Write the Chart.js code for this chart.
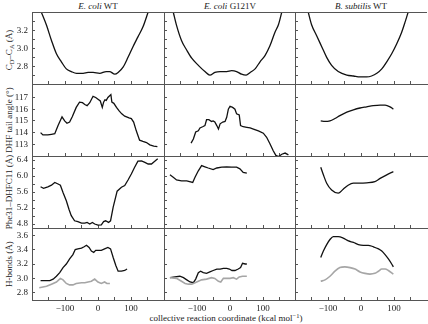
<!DOCTYPE html>
<html>
<head>
<meta charset="utf-8">
<script src="https://cdn.jsdelivr.net/npm/chart.js@4.4.1/dist/chart.umd.min.js"></script>
<style>
  body { margin: 0; background: #fff; }
  #wrap { position: relative; width: 428px; height: 324px; font-family: 'Liberation Serif', 'Times New Roman', serif; color: #222; }
  #wrap canvas { position: absolute; left: 0; top: 0; }
  .t { position: absolute; font-size: 9px; white-space: nowrap; transform: translate(-50%, -50%); line-height: 1; }
  .yl { transform: translate(-50%, -50%) rotate(-90deg); }
  sub { font-size: 6.5px; vertical-align: -2px; line-height: 0; }
  sup { font-size: 6.5px; vertical-align: 3px; line-height: 0; }
</style>
</head>
<body>
<div id="wrap">
  <div class="t" style="left:98px;top:6px"><i>E. coli</i> WT</div>
  <div class="t" style="left:230px;top:6px"><i>E. coli</i> G121V</div>
  <div class="t" style="left:361px;top:6px"><i>B. subtilis</i> WT</div>
  <div class="t yl" style="left:9px;top:50px">C<sub>D</sub>–C<sub>A</sub> (Å)</div>
  <div class="t yl" style="left:9px;top:120px">DHF tail angle (°)</div>
  <div class="t yl" style="left:9px;top:192px">Phe31–DHFC11 (Å)</div>
  <div class="t yl" style="left:9px;top:264px">H-bonds (Å)</div>
  <div class="t" style="left:226px;top:318px">collective reaction coordinate (kcal mol<sup>−1</sup>)</div>
</div>
<script>
// x axis: collective reaction coordinate
var xTicks = [-150, -100, -50, 0, 50, 100, 150];
var xLabeled = [-100, 0, 100];

// y axis ticks per row
var cdcaTicks = [2.7, 2.8, 2.9, 3.0, 3.1, 3.2, 3.3];
var cdcaLabeled = [2.8, 3.0, 3.2];
var angleTicks = [113, 114, 115, 116, 117];
var angleLabeled = [113, 114, 115, 116, 117];
var pheTicks = [4.8, 5.0, 5.2, 5.4, 5.6, 5.8, 6.0, 6.2, 6.4];
var pheLabeled = [4.8, 5.2, 5.6, 6.0, 6.4];
var hbTicks = [2.8, 3.0, 3.2, 3.4, 3.6];
var hbLabeled = [2.8, 3.0, 3.2, 3.4, 3.6];

// row 1: CD-CA distance
var cdcaWTx = [-172, -156, -141, -126, -111, -96, -81, -65, -45, -30, -15, 5, 25, 35, 51, 61, 76, 91, 106, 121, 136, 152];
var cdcaWTy = [3.41, 3.26, 3.09, 2.94, 2.85, 2.77, 2.74, 2.72, 2.72, 2.73, 2.73, 2.72, 2.74, 2.74, 2.71, 2.73, 2.79, 2.90, 3.02, 3.13, 3.24, 3.41];
var cdcaG121Vx = [-172, -162, -147, -131, -116, -96, -76, -61, -46, -30, -10, 5, 20, 35, 49, 61, 76, 91, 106, 121, 136, 147, 157];
var cdcaG121Vy = [3.41, 3.26, 3.09, 2.98, 2.89, 2.81, 2.74, 2.70, 2.73, 2.74, 2.74, 2.75, 2.74, 2.71, 2.70, 2.73, 2.77, 2.85, 2.92, 3.03, 3.18, 3.27, 3.41];
var cdcaBsubx = [-160, -150, -134, -119, -104, -89, -69, -43, -23, -3, 17, 32, 48, 63, 78, 93, 108, 123, 133, 143];
var cdcaBsuby = [3.41, 3.27, 3.14, 3.02, 2.90, 2.81, 2.74, 2.70, 2.69, 2.68, 2.68, 2.69, 2.72, 2.77, 2.85, 2.94, 3.05, 3.18, 3.29, 3.41];

// row 2: DHF tail angle
var angleWTx = [-174, -167, -152, -141, -131, -121, -109, -101, -94, -86, -78, -66, -56, -47, -40, -33, -25, -15, -7, 0, 7, 13, 17, 21, 25, 30, 39, 42, 48, 56, 64, 72, 81, 94, 101, 108, 116, 126, 136, 147, 157, 169, 180];
var angleWTy = [114.0, 113.8, 113.8, 113.85, 113.9, 114.6, 115.35, 115.0, 114.8, 114.9, 115.35, 116.15, 116.6, 116.55, 116.4, 116.3, 116.55, 117.1, 117.0, 116.85, 116.7, 116.15, 116.6, 116.8, 116.75, 117.0, 117.25, 116.6, 116.5, 116.15, 115.85, 115.6, 115.4, 115.25, 115.2, 114.9, 114.15, 113.35, 113.25, 113.15, 112.95, 112.85, 112.8];
var angleG121Vx = [-118, -111, -104, -96, -91, -83, -76, -71, -64, -56, -51, -46, -40, -35, -30, -22, -15, -10, -5, 0, 8, 15, 20, 28, 32, 40, 51, 61, 71, 86, 101, 111, 121, 131, 139, 147, 157, 167, 177];
var angleG121Vy = [113.1, 113.45, 114.05, 114.15, 114.4, 114.5, 114.6, 115.1, 115.1, 114.95, 115.0, 114.9, 114.6, 114.3, 114.75, 114.9, 114.95, 115.3, 116.0, 116.25, 116.15, 116.0, 115.6, 115.5, 114.6, 114.5, 114.45, 114.4, 114.3, 114.15, 113.95, 113.6, 113.05, 112.45, 112.05, 111.95, 112.15, 112.25, 112.1];
var angleBsubx = [-122, -109, -94, -79, -64, -43, -23, -3, 17, 37, 58, 73, 88, 98];
var angleBsuby = [115.0, 114.95, 115.0, 115.2, 115.45, 115.75, 115.95, 116.1, 116.2, 116.3, 116.35, 116.35, 116.2, 116.0];

// row 3: Phe31-DHFC11 distance
var pheWTx = [-174, -165, -152, -141, -131, -121, -114, -106, -96, -88, -81, -71, -61, -50, -40, -33, -25, -17, -10, 0, 10, 17, 23, 32, 38, 46, 58, 71, 81, 91, 101, 111, 121, 132, 142, 152, 162, 172, 181];
var pheWTy = [5.73, 5.69, 5.73, 5.77, 5.84, 5.80, 5.77, 5.59, 5.38, 5.17, 5.01, 4.88, 4.86, 4.82, 4.82, 4.84, 4.80, 4.84, 4.80, 4.77, 4.78, 4.86, 4.88, 4.84, 4.88, 5.22, 5.62, 5.72, 5.76, 5.90, 6.05, 6.22, 6.37, 6.38, 6.34, 6.30, 6.30, 6.37, 6.43];
var pheG121Vx = [-182, -172, -162, -147, -131, -113, -106, -96, -86, -76, -66, -51, -40, -25, -10, 5, 20, 30, 40, 51];
var pheG121Vy = [6.03, 5.97, 5.90, 5.88, 5.88, 5.84, 5.97, 6.13, 6.26, 6.23, 6.20, 6.16, 6.20, 6.22, 6.23, 6.22, 6.22, 6.18, 6.09, 6.07];
var pheBsubx = [-122, -114, -104, -89, -69, -54, -39, -23, -3, 17, 42, 58, 78, 98];
var pheBsuby = [6.22, 6.03, 5.82, 5.65, 5.57, 5.67, 5.77, 5.82, 5.82, 5.83, 5.86, 5.94, 6.03, 6.11];

// row 4: H-bonds (black and grey series)
var hbWTx = [-174, -162, -146, -136, -126, -116, -106, -96, -86, -76, -69, -61, -50, -42, -35, -27, -20, -13, -7, 0, 10, 20, 30, 38, 46, 54, 61, 71, 81, 88];
var hbWTy = [2.97, 2.97, 2.97, 2.99, 3.03, 3.08, 3.15, 3.20, 3.27, 3.33, 3.40, 3.41, 3.42, 3.44, 3.46, 3.43, 3.38, 3.36, 3.39, 3.39, 3.39, 3.41, 3.43, 3.41, 3.29, 3.18, 3.10, 3.10, 3.11, 3.13];
var hbWT2x = [-178, -156, -141, -126, -114, -106, -96, -86, -76, -66, -50, -40, -30, -20, -10, 0, 10, 20, 27, 36];
var hbWT2y = [2.87, 2.89, 2.92, 2.95, 3.00, 2.98, 2.93, 2.91, 2.91, 2.93, 2.94, 2.94, 2.95, 2.96, 2.99, 2.95, 2.93, 2.95, 2.93, 2.93];
var hbG121Vx = [-182, -167, -152, -141, -131, -121, -111, -104, -96, -89, -81, -71, -61, -51, -40, -30, -20, -10, -2, 6, 15, 25, 32, 38, 46, 51];
var hbG121Vy = [3.01, 3.02, 3.03, 3.01, 2.98, 2.95, 2.94, 2.99, 3.08, 3.10, 3.08, 3.07, 3.09, 3.11, 3.13, 3.13, 3.14, 3.14, 3.13, 3.11, 3.11, 3.13, 3.15, 3.21, 3.20, 3.20];
var hbG121V2x = [-182, -162, -147, -136, -126, -116, -106, -96, -86, -71, -56, -46, -35, -28, -20, -10, 0, 10, 20, 28, 38, 51];
var hbG121V2y = [3.01, 3.00, 2.96, 2.93, 2.92, 2.92, 2.94, 2.96, 2.98, 2.99, 3.01, 3.00, 2.96, 2.95, 3.00, 3.00, 3.00, 3.01, 2.99, 3.02, 3.03, 3.03];
var hbBsubx = [-122, -114, -104, -94, -84, -69, -54, -38, -23, -8, 7, 22, 37, 53, 63, 73, 83, 93, 98];
var hbBsuby = [3.29, 3.38, 3.47, 3.54, 3.58, 3.58, 3.56, 3.52, 3.50, 3.47, 3.46, 3.46, 3.44, 3.41, 3.38, 3.33, 3.27, 3.20, 3.16];
var hbBsub2x = [-122, -109, -94, -79, -64, -49, -33, -18, -3, 12, 27, 42, 53, 63, 73, 83, 98];
var hbBsub2y = [2.96, 2.98, 3.03, 3.10, 3.15, 3.16, 3.15, 3.13, 3.09, 3.07, 3.06, 3.07, 3.10, 3.13, 3.13, 3.11, 3.06];

// layout of the 4x3 grid (pixels)
var colLeft = [32, 164, 295], colRight = [164, 296, 427];
var rowTop = [12, 84, 156, 228], rowBottom = [84, 156, 228, 300];
var YW = 30, XH = 16;
var axisColor = '#555';
var black = '#111', grey = '#a6a6a6';

Chart.defaults.font.family = "'Liberation Serif', 'Times New Roman', serif";
Chart.defaults.font.size = 9;
Chart.defaults.color = '#222';

var rows = [
  { min: 2.6, max: 3.41, ticks: cdcaTicks, labeled: cdcaLabeled, dec: 1 },
  { min: 112, max: 118.15, ticks: angleTicks, labeled: angleLabeled, dec: 0 },
  { min: 4.7, max: 6.5, ticks: pheTicks, labeled: pheLabeled, dec: 1 },
  { min: 2.7, max: 3.7, ticks: hbTicks, labeled: hbLabeled, dec: 1 }
];

var panels = [
  [[[cdcaWTx, cdcaWTy, black, true]], [[cdcaG121Vx, cdcaG121Vy, black, true]], [[cdcaBsubx, cdcaBsuby, black, true]]],
  [[[angleWTx, angleWTy, black, false]], [[angleG121Vx, angleG121Vy, black, false]], [[angleBsubx, angleBsuby, black, true]]],
  [[[pheWTx, pheWTy, black, false]], [[pheG121Vx, pheG121Vy, black, false]], [[pheBsubx, pheBsuby, black, true]]],
  [[[hbWT2x, hbWT2y, grey, false], [hbWTx, hbWTy, black, false]],
   [[hbG121V2x, hbG121V2y, grey, false], [hbG121Vx, hbG121Vy, black, false]],
   [[hbBsub2x, hbBsub2y, grey, true], [hbBsubx, hbBsuby, black, true]]]
];

function has(list, v) {
  return list.some(function (l) { return Math.abs(l - v) < 1e-6; });
}

var topLine = {
  id: 'topLine',
  afterDraw: function (chart, args, opts) {
    if (!opts.on) return;
    var a = chart.chartArea, c = chart.ctx;
    c.save();
    c.strokeStyle = axisColor;
    c.lineWidth = 1;
    c.beginPath();
    c.moveTo(a.left, Math.round(a.top) + 0.5);
    c.lineTo(a.right, Math.round(a.top) + 0.5);
    c.stroke();
    c.restore();
  }
};

var wrap = document.getElementById('wrap');

function makePanel(r, col) {
  var cv = document.createElement('canvas');
  cv.width = 428;
  cv.height = 324;
  wrap.appendChild(cv);
  var row = rows[r];
  var datasets = panels[r][col].map(function (s) {
    return {
      data: s[0].map(function (x, i) { return { x: x, y: s[1][i] }; }),
      borderColor: s[2],
      borderWidth: s[2] === grey ? 1.6 : 1.3,
      pointRadius: 0,
      fill: false,
      cubicInterpolationMode: s[3] ? 'monotone' : 'default',
      tension: 0
    };
  });
  new Chart(cv, {
    type: 'line',
    data: { datasets: datasets },
    plugins: [topLine],
    options: {
      responsive: false,
      animation: false,
      events: [],
      layout: {
        padding: {
          left: colLeft[col] - YW,
          right: 428 - colRight[col],
          top: rowTop[r],
          bottom: 324 - rowBottom[r] - XH
        }
      },
      plugins: {
        legend: { display: false },
        tooltip: { enabled: false },
        topLine: { on: r === 0 }
      },
      scales: {
        x: {
          type: 'linear',
          min: -200,
          max: 200,
          afterBuildTicks: function (s) { s.ticks = xTicks.map(function (v) { return { value: v }; }); },
          afterFit: function (s) { s.height = XH; s.paddingLeft = 0; s.paddingRight = 0; },
          grid: { drawOnChartArea: false, tickLength: -3, color: axisColor },
          border: { color: axisColor, width: 1 },
          ticks: {
            autoSkip: false,
            maxRotation: 0,
            padding: 6,
            callback: function (v) {
              if (r !== 3 || !has(xLabeled, v)) return '';
              return v < 0 ? '−' + Math.abs(v) : String(v);
            }
          }
        },
        y: {
          type: 'linear',
          min: row.min,
          max: row.max,
          afterBuildTicks: function (s) { s.ticks = row.ticks.map(function (v) { return { value: v }; }); },
          afterFit: function (s) { s.width = YW; s.paddingTop = 0; s.paddingBottom = 0; },
          grid: { drawOnChartArea: false, tickLength: -3, color: axisColor },
          border: { color: axisColor, width: 1 },
          ticks: {
            autoSkip: false,
            padding: 7,
            callback: function (v) {
              if (col !== 0 || !has(row.labeled, v)) return '';
              return v.toFixed(row.dec);
            }
          }
        }
      }
    }
  });
}

for (var r = 0; r < 4; r++) {
  for (var c = 0; c < 3; c++) {
    makePanel(r, c);
  }
}
</script>
</body>
</html>
